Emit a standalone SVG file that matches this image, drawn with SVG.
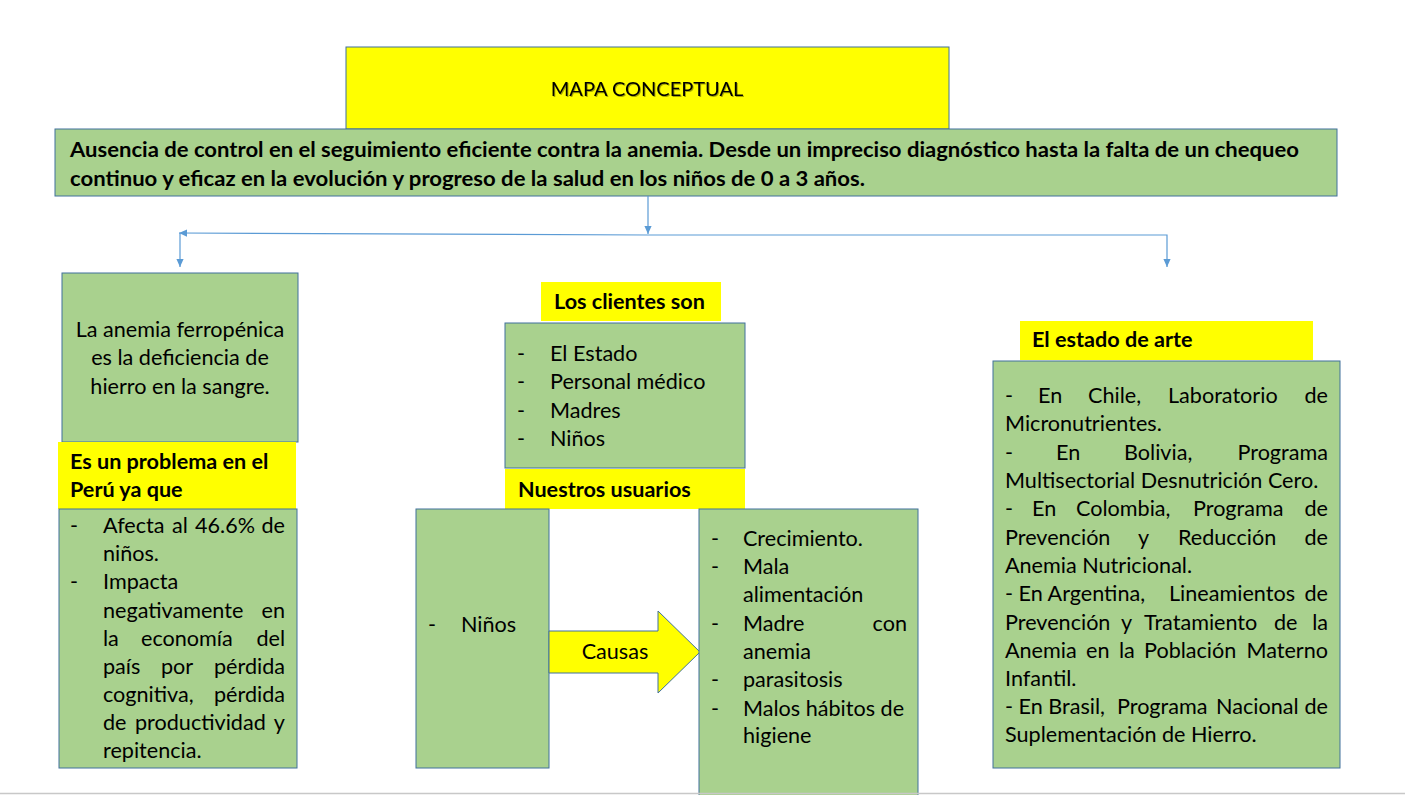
<svg xmlns="http://www.w3.org/2000/svg" width="1405" height="795" viewBox="0 0 1405 795">
<style>
.box{fill:#A9D18E;stroke:#41719C;stroke-width:1}
.lab{fill:#FFFF00}
.t{font-family:Lato,"Liberation Sans",sans-serif;font-size:21.6px;fill:#000}
.b{font-weight:bold}
.ttl{font-size:20px}
.c{stroke:#5B9BD5;stroke-width:1.2;fill:none}
.e{text-anchor:end}
.m{text-anchor:middle}
</style>
<defs>
<marker id="ah" viewBox="0 0 10 10" refX="10" refY="5" markerWidth="9" markerHeight="8" markerUnits="userSpaceOnUse" orient="auto">
<path d="M0,0.5 L10,5 L0,9.5 z" fill="#5B9BD5"/>
</marker>
<filter id="sh" x="-5%" y="-20%" width="110%" height="140%">
<feDropShadow dx="1" dy="1" stdDeviation="0.6" flood-color="#000" flood-opacity="0.35"/>
</filter>
</defs>
<rect width="1405" height="795" fill="#fff"/>

<g id="title">
<rect x="346" y="47" width="603" height="82" fill="#FFFF00" stroke="#41719C" stroke-width="1"/>
<text class="t ttl m" x="647" y="96" filter="url(#sh)">MAPA CONCEPTUAL</text>
</g>

<g id="problema">
<rect class="box" x="55" y="129" width="1282" height="67"/>
<text class="t b" x="70" y="157" textLength="1229" lengthAdjust="spacingAndGlyphs">Ausencia de control en el seguimiento eficiente contra la anemia. Desde un impreciso diagnóstico hasta la falta de un chequeo</text>
<text class="t b" x="70" y="186" textLength="795" lengthAdjust="spacingAndGlyphs">continuo y eficaz en la evolución y progreso de la salud en los niños de 0 a 3 años.</text>
</g>

<g id="connectors">
<path class="c" d="M648,196 V234" marker-end="url(#ah)"/>
<path class="c" d="M648,235 H1167 V267" marker-end="url(#ah)"/>
<path class="c" d="M648,235 L179,233" marker-end="url(#ah)"/>
<path class="c" d="M180,233 V267" marker-end="url(#ah)"/>
</g>

<g id="definicion">
<rect class="box" x="62" y="273" width="236" height="169"/>
<text class="t m" x="180" y="337">La anemia ferropénica</text>
<text class="t m" x="180" y="365">es la deficiencia de</text>
<text class="t m" x="180" y="394">hierro en la sangre.</text>
</g>

<g id="label-peru">
<rect class="lab" x="58" y="442" width="238" height="67"/>
<text class="t b" x="70" y="469">Es un problema en el</text>
<text class="t b" x="70" y="497">Perú ya que</text>
</g>

<g id="peru">
<rect class="box" x="59" y="509" width="238" height="259"/>
<text class="t"><tspan x="70" y="533">-</tspan><tspan x="103" y="533">Afecta</tspan><tspan x="172" y="533">al</tspan><tspan x="195" y="533">46.6%</tspan><tspan x="285" y="533" class="e">de</tspan></text>
<text class="t" x="103" y="561">niños.</text>
<text class="t"><tspan x="70" y="589">-</tspan><tspan x="103" y="589">Impacta</tspan></text>
<text class="t"><tspan x="103" y="618">negativamente</tspan><tspan x="285" y="618" class="e">en</tspan></text>
<text class="t"><tspan x="103" y="646">la</tspan><tspan x="141" y="646">economía</tspan><tspan x="285" y="646" class="e">del</tspan></text>
<text class="t"><tspan x="103" y="674">país</tspan><tspan x="161" y="674">por</tspan><tspan x="285" y="674" class="e">pérdida</tspan></text>
<text class="t"><tspan x="103" y="702">cognitiva,</tspan><tspan x="285" y="702" class="e">pérdida</tspan></text>
<text class="t"><tspan x="103" y="730">de</tspan><tspan x="135" y="730">productividad</tspan><tspan x="285" y="730" class="e">y</tspan></text>
<text class="t" x="103" y="758">repitencia.</text>
</g>

<g id="label-clientes">
<rect class="lab" x="541" y="282" width="180" height="39"/>
<text class="t b" x="554" y="309">Los clientes son</text>
</g>

<g id="clientes">
<rect class="box" x="505" y="323" width="240" height="145"/>
<text class="t"><tspan x="517" y="361">-</tspan><tspan x="550" y="361">El Estado</tspan></text>
<text class="t"><tspan x="517" y="389">-</tspan><tspan x="550" y="389">Personal médico</tspan></text>
<text class="t"><tspan x="517" y="418">-</tspan><tspan x="550" y="418">Madres</tspan></text>
<text class="t"><tspan x="517" y="446">-</tspan><tspan x="550" y="446">Niños</tspan></text>
</g>

<g id="label-usuarios">
<rect class="lab" x="505" y="469" width="240" height="40"/>
<text class="t b" x="518" y="497">Nuestros usuarios</text>
</g>

<g id="usuarios">
<rect class="box" x="416" y="509" width="133" height="259"/>
<text class="t"><tspan x="428" y="632">-</tspan><tspan x="461" y="632">Niños</tspan></text>
</g>

<g id="causas-arrow">
<polygon points="549,631 658,631 658,611 700,652 658,693 658,673 549,673" fill="#FFFF00" stroke="#41719C" stroke-width="1"/>
<text class="t m" x="615" y="659">Causas</text>
</g>

<g id="causas">
<rect class="box" x="699" y="509" width="219" height="290"/>
<text class="t"><tspan x="711" y="546">-</tspan><tspan x="743" y="546">Crecimiento.</tspan></text>
<text class="t"><tspan x="711" y="574">-</tspan><tspan x="743" y="574">Mala</tspan></text>
<text class="t" x="743" y="602">alimentación</text>
<text class="t"><tspan x="711" y="631">-</tspan><tspan x="743" y="631">Madre</tspan><tspan x="907" y="631" class="e">con</tspan></text>
<text class="t" x="743" y="659">anemia</text>
<text class="t"><tspan x="711" y="687">-</tspan><tspan x="743" y="687">parasitosis</tspan></text>
<text class="t"><tspan x="711" y="716">-</tspan><tspan x="743" y="716">Malos hábitos de</tspan></text>
<text class="t" x="743" y="743">higiene</text>
</g>

<g id="label-estado">
<rect class="lab" x="1020" y="321" width="293" height="39"/>
<text class="t b" x="1032" y="347">El estado de arte</text>
</g>

<g id="estado">
<rect class="box" x="993" y="361" width="347" height="407"/>
<text class="t"><tspan x="1005" y="403">-</tspan><tspan x="1038" y="403">En</tspan><tspan x="1088" y="403">Chile,</tspan><tspan x="1168" y="403">Laboratorio</tspan><tspan x="1328" y="403" class="e">de</tspan></text>
<text class="t" x="1005" y="431">Micronutrientes.</text>
<text class="t"><tspan x="1005" y="460">-</tspan><tspan x="1056" y="460">En</tspan><tspan x="1124" y="460">Bolivia,</tspan><tspan x="1328" y="460" class="e">Programa</tspan></text>
<text class="t" x="1005" y="488">Multisectorial Desnutrición Cero.</text>
<text class="t"><tspan x="1005" y="516">-</tspan><tspan x="1032" y="516">En</tspan><tspan x="1076" y="516">Colombia,</tspan><tspan x="1193" y="516">Programa</tspan><tspan x="1328" y="516" class="e">de</tspan></text>
<text class="t"><tspan x="1005" y="545">Prevención</tspan><tspan x="1138" y="545">y</tspan><tspan x="1178" y="545">Reducción</tspan><tspan x="1328" y="545" class="e">de</tspan></text>
<text class="t" x="1005" y="573">Anemia Nutricional.</text>
<text class="t"><tspan x="1005" y="601">- En Argentina,</tspan><tspan x="1169" y="601">Lineamientos</tspan><tspan x="1328" y="601" class="e">de</tspan></text>
<text class="t"><tspan x="1005" y="630">Prevención</tspan><tspan x="1121" y="630">y</tspan><tspan x="1144" y="630">Tratamiento</tspan><tspan x="1274" y="630">de</tspan><tspan x="1328" y="630" class="e">la</tspan></text>
<text class="t"><tspan x="1005" y="658">Anemia</tspan><tspan x="1086" y="658">en</tspan><tspan x="1119" y="658">la</tspan><tspan x="1144" y="658">Población</tspan><tspan x="1328" y="658" class="e">Materno</tspan></text>
<text class="t" x="1005" y="686">Infantil.</text>
<text class="t"><tspan x="1005" y="714">- En Brasil,</tspan><tspan x="1117" y="714">Programa</tspan><tspan x="1216" y="714">Nacional</tspan><tspan x="1328" y="714" class="e">de</tspan></text>
<text class="t" x="1005" y="742">Suplementación de Hierro.</text>
</g>

<line x1="0" y1="793.5" x2="1405" y2="793.5" stroke="#C8C8C8" stroke-width="1.5"/>
</svg>
